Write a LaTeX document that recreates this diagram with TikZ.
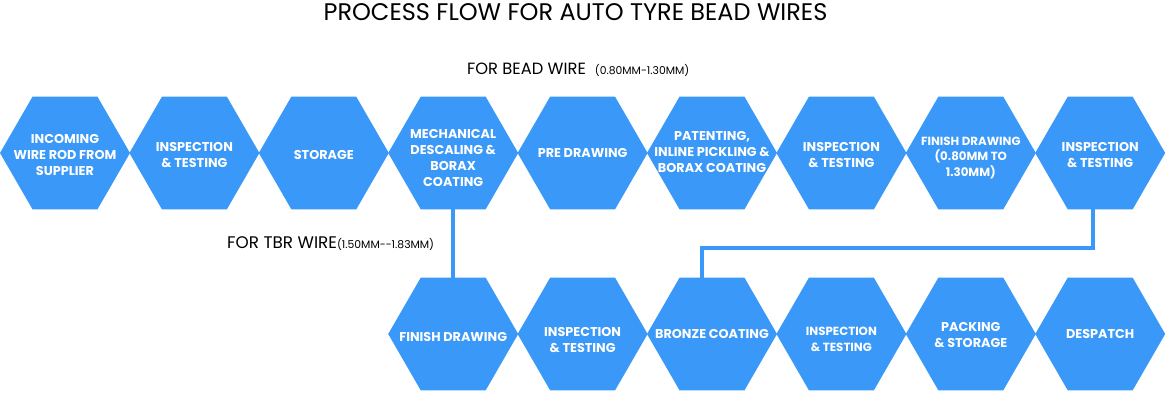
\documentclass[tikz,border=0pt]{standalone}
\usepackage{fontspec}
\setmainfont{Poppins}
\usetikzlibrary{shapes.geometric}
\definecolor{hexblue}{RGB}{58,152,248}
\tikzset{
  hexa/.style={regular polygon, regular polygon sides=6, minimum size=130pt, inner sep=0pt, outer sep=0pt, fill=hexblue, draw=none},
  hlbl/.style={text=white, align=center, inner sep=0pt, font=\fontsize{12.8}{15.8}\selectfont\bfseries},
  slbl/.style={text=white, align=center, inner sep=0pt, font=\fontsize{11.8}{15.8}\selectfont\bfseries},
  conn/.style={draw=hexblue, line width=3.5pt},
}
\begin{document}
\begin{tikzpicture}[x=1pt,y=-1pt]
\useasboundingbox (0,0) rectangle (1168,401);
\node[inner sep=0pt, font=\fontsize{24}{28}\selectfont] (title) at (575.5,12.5) {PROCESS FLOW FOR AUTO TYRE BEAD WIRES};
\node[inner sep=0pt, anchor=base west, font=\fontsize{16.3}{19}\selectfont] (bead) at (467,75) {FOR BEAD WIRE\hspace{0.55em}{\fontsize{10.8}{12}\selectfont(0.80MM-1.30MM)}};
\node[inner sep=0pt, anchor=base west, font=\fontsize{16.8}{19}\selectfont] (tbr) at (227,248.5) {FOR TBR WIRE{\fontsize{10.8}{12}\selectfont(1.50MM-{}-1.83MM)}};
% top row
\foreach \i/\x in {1/65,2/194.4,3/323.8,4/453.2,5/582.6,6/712,7/841.4,8/970.8,9/1100.2}
  \node[hexa] (h\i) at (\x,153) {};
% bottom row
\foreach \i/\x in {1/453.2,2/582.6,3/712,4/841.4,5/970.8,6/1100.2}
  \node[hexa] (b\i) at (\x,334) {};
% labels top
\node[hlbl] (t1) at (65,155) {INCOMING\\WIRE ROD FROM\\SUPPLIER};
\node[hlbl] (t2) at (194.4,155) {INSPECTION\\\&\ TESTING};
\node[hlbl] (t3) at (323.8,155) {STORAGE};
\node[hlbl] (t4) at (453.2,158) {MECHANICAL\\DESCALING \&\\BORAX\\COATING};
\node[hlbl] (t5) at (582.6,153) {PRE DRAWING};
\node[hlbl] (t6) at (712,152) {PATENTING,\\INLINE PICKLING \&\\BORAX COATING};
\node[hlbl] (t7) at (841.4,155) {INSPECTION\\\&\ TESTING};
\node[slbl] (t8) at (970.8,158) {FINISH DRAWING\\(0.80MM TO\\1.30MM)};
\node[hlbl] (t9) at (1100.2,155) {INSPECTION\\\&\ TESTING};
% labels bottom
\node[hlbl] (u1) at (453.2,337) {FINISH DRAWING};
\node[hlbl] (u2) at (582.6,340) {INSPECTION\\\&\ TESTING};
\node[hlbl] (u3) at (712,334) {BRONZE COATING};
\node[slbl] (u4) at (841.4,339) {INSPECTION\\\&\ TESTING};
\node[hlbl] (u5) at (970.8,335) {PACKING\\\&\ STORAGE};
\node[hlbl] (u6) at (1100.2,334) {DESPATCH};
% connectors
\draw[conn] (h4.south) -- (b1.north);
\coordinate (k1) at (1093,248);
\coordinate (k2) at (702,248);
\draw[conn] (h9.south -| k1) -- (k1) -- (k2) -- (k2 |- b3.north);
\end{tikzpicture}
\end{document}
